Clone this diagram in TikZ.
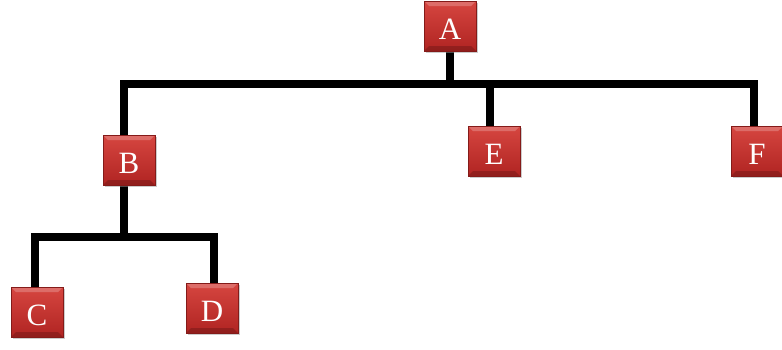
\documentclass[tikz,border=0pt]{standalone}
\usepackage{fontspec}
\setmainfont{Liberation Serif}
\usetikzlibrary{shadows,calc}

\definecolor{boxtop}{RGB}{214,70,64}
\definecolor{boxbot}{RGB}{176,36,34}

\pgfdeclarelayer{background}
\pgfsetlayers{background,main}

\tikzset{
  member/.style={draw=boxbot!75!black, line width=0.6pt,
    top color=boxtop, bottom color=boxbot,
    drop shadow={shadow xshift=1.5pt, shadow yshift=-1.5pt, fill=black!40},
    minimum width=52pt, minimum height=50pt, inner sep=0pt,
    text=white, font=\fontsize{31}{31}\selectfont,
    text height=27pt, text depth=-4pt,
    path picture={
      \fill[white, opacity=0.22] (path picture bounding box.north west)
        -- (path picture bounding box.north east)
        -- ++(-5pt,-5pt) -- ($(path picture bounding box.north west)+(5pt,-5pt)$) -- cycle;
      \fill[black, opacity=0.18] (path picture bounding box.south west)
        -- (path picture bounding box.south east)
        -- ++(-5pt,5pt) -- ($(path picture bounding box.south west)+(5pt,5pt)$) -- cycle;
    }},
  link/.style={line width=8pt, line cap=rect}
}

\begin{document}
\begin{tikzpicture}[x=1pt,y=-1pt]
  \useasboundingbox (0,0) rectangle (782,349);
  % members
  \node[member] (A) at (450,26) {A};
  \node[member] (B) at (129,160) {B};
  \node[member] (E) at (494,151) {E};
  \node[member] (F) at (757,151) {F};
  \node[member] (C) at (37,312) {C};
  \node[member] (D) at (212,308) {D};
  % bus lines and stem ends
  \coordinate (busA) at (450,84);
  \coordinate (busB) at (124,237);
  \coordinate (bTop) at ([xshift=-5pt]B.north);
  \coordinate (bBot) at ([xshift=-5pt]B.south);
  \coordinate (eTop) at ([xshift=-4pt]E.north);
  \coordinate (fTop) at ([xshift=-3pt]F.north);
  \coordinate (cTop) at ([xshift=-2pt]C.north);
  \coordinate (dTop) at ([xshift=2pt]D.north);
  % links behind the boxes
  \begin{pgfonlayer}{background}
    \draw[link] (A) -- (busA);
    \draw[link] (bTop) |- (busA) -| (fTop);
    \draw[link] (busA -| eTop) -- (eTop);
    \draw[link] (bBot) -- (busB);
    \draw[link] (cTop) |- (busB) -| (dTop);
  \end{pgfonlayer}
\end{tikzpicture}
\end{document}
